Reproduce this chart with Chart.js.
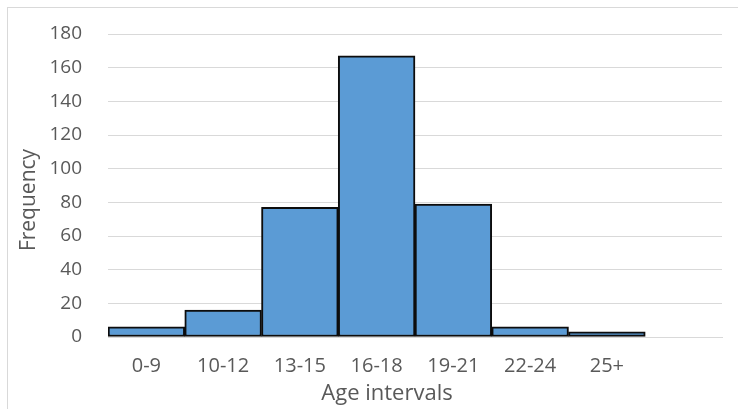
<!DOCTYPE html>
<html>
<head>
<meta charset="utf-8">
<script src="https://cdn.jsdelivr.net/npm/chart.js@4/dist/chart.umd.min.js"></script>
<style>
  html, body { margin: 0; padding: 0; background: #fff; overflow: hidden; }
  #frame { position: absolute; left: 7px; top: 7px; width: 900px; height: 600px; border: 1px solid #d9d9d9; box-sizing: border-box; }
  #wrap { position: absolute; left: 0; top: 0; width: 738px; height: 409px; }
</style>
</head>
<body>
<div id="frame"></div>
<div id="wrap"><canvas id="chart" width="738" height="409"></canvas></div>
<script>
// Age groups (last slot is an empty bin at the right end of the axis)
const ageIntervals = ['0-9', '10-12', '13-15', '16-18', '19-21', '22-24', '25+', ''];
const frequency = [6, 16, 77, 167, 79, 6, 3, null];
const yTicks = [0, 20, 40, 60, 80, 100, 120, 140, 160, 180];
const xTitle = 'Age intervals';
const yTitle = 'Frequency';

const textColor = '#595959';
const fontFamily = '"Open Sans", "Liberation Sans", sans-serif';

// Axis titles placed in the chart's own frame
const axisTitles = {
  id: 'axisTitles',
  afterDraw(chart) {
    const { ctx, chartArea } = chart;
    ctx.save();
    ctx.fillStyle = textColor;
    ctx.textAlign = 'center';
    ctx.textBaseline = 'middle';
    ctx.font = '22px ' + fontFamily;
    ctx.fillText(xTitle, chartArea.left + 279, chartArea.bottom + 57);
    ctx.font = '21px ' + fontFamily;
    ctx.translate(29, chartArea.top + 166);
    ctx.rotate(-Math.PI / 2);
    ctx.fillText(yTitle, 0, 0);
    ctx.restore();
  }
};

new Chart(document.getElementById('chart'), {
  type: 'bar',
  data: {
    labels: ageIntervals,
    datasets: [{
      data: frequency,
      backgroundColor: '#5b9bd5',
      borderColor: '#0d0d0d',
      borderWidth: 2,
      borderSkipped: false,
      barPercentage: 1,
      categoryPercentage: 1
    }]
  },
  options: {
    responsive: false,
    animation: false,
    layout: { padding: { left: 0, right: 16, top: 34, bottom: 0 } },
    plugins: { legend: { display: false }, tooltip: { enabled: false } },
    scales: {
      x: {
        grid: { display: false, drawTicks: false },
        border: { display: true, color: '#d9d9d9', width: 1 },
        ticks: { color: textColor, font: { size: 20, family: fontFamily }, padding: 17, maxRotation: 0 },
        afterFit(scale) { scale.height = 72; }
      },
      y: {
        min: 0,
        max: 180,
        afterBuildTicks(scale) { scale.ticks = yTicks.map(v => ({ value: v })); },
        grid: { color: '#d9d9d9', lineWidth: 1, drawTicks: true, tickLength: 26, tickColor: 'rgba(0,0,0,0)' },
        border: { display: false },
        ticks: { color: textColor, font: { size: 19, family: fontFamily }, padding: 0 },
        afterFit(scale) { scale.width = 108; }
      }
    }
  },
  plugins: [axisTitles]
});
</script>
</body>
</html>
